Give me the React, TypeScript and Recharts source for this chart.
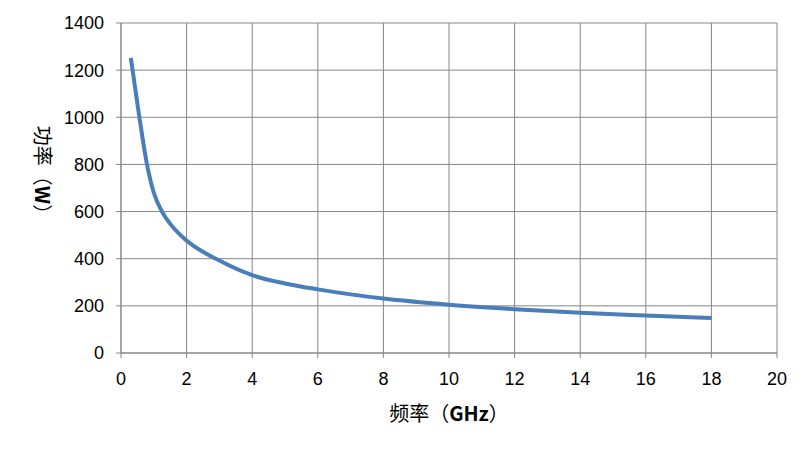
import React from "react";
import { LineChart, Line, XAxis, YAxis, CartesianGrid, Label } from "recharts";

const FREQ_GHZ = [0.3, 0.55, 0.8, 1, 1.25, 1.5, 2, 3, 4, 5, 6, 8, 10, 12, 14, 16, 18];
const POWER_W = [1252, 1010, 795, 680, 600, 548, 477, 392, 330, 295, 270, 231, 205, 186, 171, 159, 148];
const X_TICKS = [0, 2, 4, 6, 8, 10, 12, 14, 16, 18, 20];
const Y_TICKS = [0, 200, 400, 600, 800, 1000, 1200, 1400];

const data = FREQ_GHZ.map((f, i) => ({ f, p: POWER_W[i] }));

const GRID = "#868686";
const TICK_FONT = { fill: "#000", fontSize: 18, fontFamily: "Liberation Sans, Arial, sans-serif" };
const CJK = "Noto Sans CJK SC, sans-serif";

function XTitle(props: any) {
  const { viewBox } = props;
  const cx = viewBox.x + viewBox.width / 2;
  return (
    <text x={cx} y={421} textAnchor="middle" fontSize={20} fontFamily={CJK} fill="#000">
      频率（<tspan fontWeight="bold">GHz</tspan>）
    </text>
  );
}

function YTitle() {
  return (
    <text
      x={0}
      y={0}
      transform="translate(35, 175) rotate(90)"
      textAnchor="middle"
      fontSize={20}
      fontFamily={CJK}
      fill="#000"
    >
      功率（<tspan fontWeight="bold">W</tspan>）
    </text>
  );
}

export default function App() {
  return (
    <div style={{ margin: -8, width: 811, height: 452, background: "#fff" }}>
      <LineChart width={811} height={452} data={data} margin={{ top: 23, right: 34, bottom: 69, left: 0 }}>
        <CartesianGrid stroke={GRID} strokeWidth={1} />
        <XAxis
          dataKey="f"
          type="number"
          domain={[0, 20]}
          ticks={X_TICKS}
          height={30}
          stroke={GRID}
          tickSize={5}
          tickMargin={14}
          tick={TICK_FONT}
        >
          <Label content={<XTitle />} />
        </XAxis>
        <YAxis
          type="number"
          domain={[0, 1400]}
          ticks={Y_TICKS}
          width={121}
          stroke={GRID}
          tickSize={5}
          tickMargin={12}
          tick={TICK_FONT}
        >
          <Label content={<YTitle />} />
        </YAxis>
        <Line
          type="monotone"
          dataKey="p"
          stroke="#4A7EBB"
          strokeWidth={4}
          dot={false}
          isAnimationActive={false}
        />
      </LineChart>
    </div>
  );
}
